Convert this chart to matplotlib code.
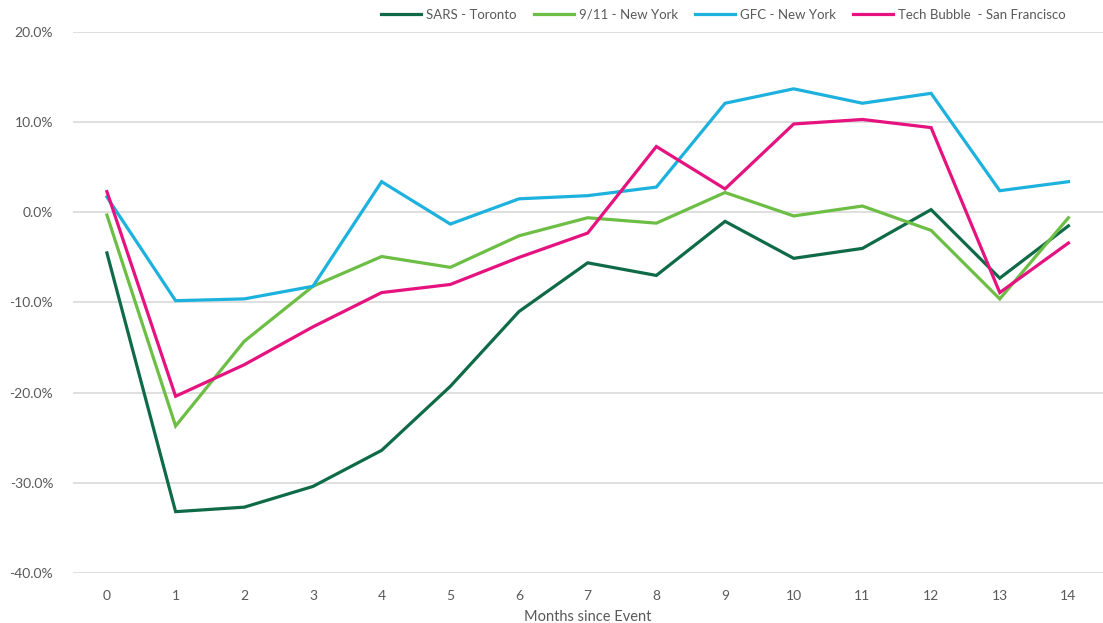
import matplotlib
matplotlib.use("Agg")
import matplotlib.pyplot as plt
from matplotlib.ticker import FuncFormatter

months = list(range(15))
sars_toronto = [-4.5, -33.2, -32.7, -30.4, -26.4, -19.3, -11.0, -5.6, -7.0, -1.0, -5.1, -4.0, 0.3, -7.3, -1.5]
nyc_911 = [-0.3, -23.7, -14.3, -8.2, -4.9, -6.1, -2.6, -0.6, -1.2, 2.2, -0.4, 0.7, -2.0, -9.6, -0.6]
gfc_ny = [1.7, -9.8, -9.6, -8.2, 3.4, -1.3, 1.5, 1.85, 2.8, 12.1, 13.7, 12.1, 13.2, 2.4, 3.4]
tech_sf = [2.3, -20.4, -16.9, -12.7, -8.9, -8.0, -5.0, -2.3, 7.3, 2.6, 9.8, 10.3, 9.4, -8.9, -3.4]

series = [
    ("SARS - Toronto", sars_toronto, "#0F6B47"),
    ("9/11 - New York", nyc_911, "#6DBE45"),
    ("GFC - New York", gfc_ny, "#1DB1DE"),
    ("Tech Bubble  - San Francisco", tech_sf, "#E5127F"),
]

plt.rcParams['font.family'] = ['Lato', 'DejaVu Sans']
txt = "#595959"

fig = plt.figure(figsize=(11.03, 6.23), dpi=100)
ax = fig.add_axes([0.0658, 0.0803, 0.934, 0.8683])

for name, vals, col in series:
    ax.plot(months, vals, color=col, lw=2.3, label=name, solid_joinstyle='miter')

ax.set_xlim(-0.5, 14.5)
ax.set_ylim(-40, 20)
ax.set_yticks(range(-40, 21, 10))
ax.yaxis.set_major_formatter(FuncFormatter(lambda v, p: f"{v:.1f}%"))
ax.set_xticks(months)
ax.grid(axis='y', color='#D9D9D9', lw=1.2)
ax.set_axisbelow(True)
for s in ax.spines.values():
    s.set_visible(False)
ax.tick_params(axis='both', length=0, colors=txt, labelsize=10)
ax.tick_params(axis='x', pad=12)
ax.tick_params(axis='y', pad=14)
ax.set_xlabel("Months since Event", color=txt, fontsize=10.5, labelpad=6)

fig.legend(loc='upper center', bbox_to_anchor=(0.656, 1.005), ncol=4, frameon=False,
           fontsize=9.5, handlelength=3.0, columnspacing=1.3, handletextpad=0.4,
           labelcolor=txt)

fig.savefig("out.png", dpi=100)
